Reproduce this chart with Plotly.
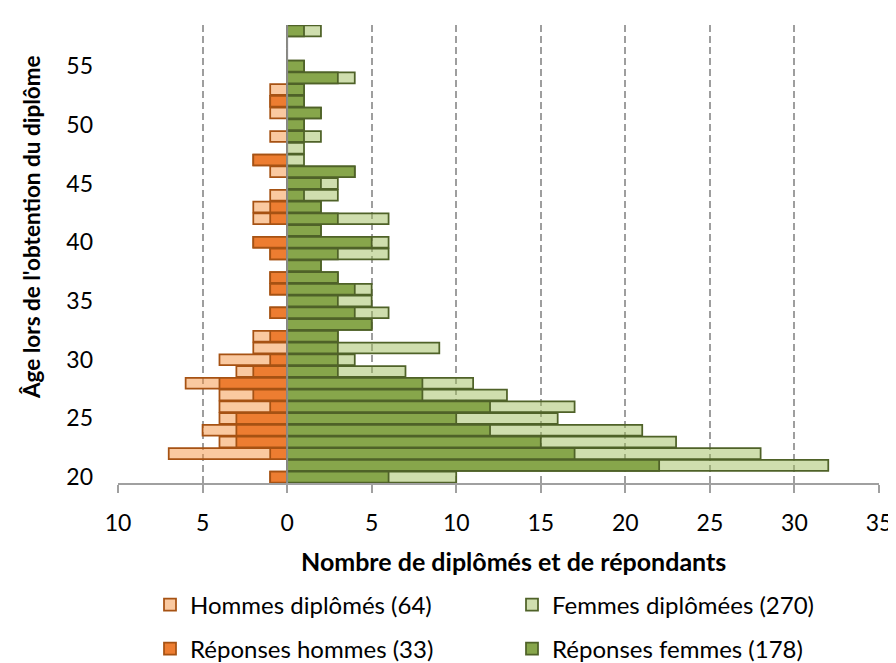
import plotly.graph_objects as go

# ---- data ----
ages = list(range(20, 59))
hommes_diplomes = [1, 0, 7, 4, 5, 4, 4, 4, 6, 3, 4, 2, 2, 0, 1, 0, 1, 1, 0, 1,
                   2, 0, 2, 2, 1, 0, 1, 2, 0, 1, 0, 1, 1, 1, 0, 0, 0, 0, 0]
reponses_hommes = [1, 0, 1, 3, 3, 3, 1, 2, 4, 2, 1, 0, 1, 0, 1, 0, 1, 1, 0, 1,
                   2, 0, 1, 1, 0, 0, 0, 2, 0, 0, 0, 0, 1, 0, 0, 0, 0, 0, 0]
femmes_diplomees = [10, 32, 28, 23, 21, 16, 17, 13, 11, 7, 4, 9, 3, 5, 6, 5, 5, 3, 2, 6,
                    6, 2, 6, 2, 3, 3, 4, 1, 1, 2, 1, 2, 1, 1, 4, 1, 0, 0, 2]
reponses_femmes = [6, 22, 17, 15, 12, 10, 12, 8, 8, 3, 3, 3, 3, 5, 4, 3, 4, 3, 2, 3,
                   5, 2, 3, 2, 1, 2, 4, 0, 0, 1, 1, 2, 1, 1, 3, 1, 0, 0, 1]

noms = ["Hommes diplômés (64)", "Femmes diplômées (270)",
        "Réponses hommes (33)", "Réponses femmes (178)"]

x_tick_vals = [-10, -5, 0, 5, 10, 15, 20, 25, 30, 35]
x_tick_text = ["10", "5", "0", "5", "10", "15", "20", "25", "30", "35"]
y_tick_vals = [20, 25, 30, 35, 40, 45, 50, 55]

titre_x = "Nombre de diplômés et de répondants"
titre_y = "Âge lors de l'obtention du diplôme"

# ---- styles ----
FONT = "Lato, 'Open Sans', sans-serif"
W, H = 896, 663
L, R, T, B = 110, 16, 17, 188
PW, PH = W - L - R, H - T - B

c_peach = "rgba(245,147,65,0.5)"
c_orange = "#ED7D31"
c_lgreen = "rgba(159,189,93,0.5)"
c_green = "#87A64B"
b_men = "#A65213"
b_women = "#4F6228"

fig = go.Figure()

def add(vals, name, fill, border, legend):
    fig.add_trace(go.Bar(
        x=vals, y=ages, orientation="h", name=name,
        marker=dict(color=fill, line=dict(color=border, width=1.75)),
        legend=legend, hoverinfo="x+y+name",
    ))

add([-v for v in hommes_diplomes], noms[0], c_peach, b_men, "legend")
add(femmes_diplomees, noms[1], c_lgreen, b_women, "legend2")
add([-v for v in reponses_hommes], noms[2], c_orange, b_men, "legend3")
add(reponses_femmes, noms[3], c_green, b_women, "legend4")

def px2paper_x(px):
    return (px - L) / PW

def px2paper_y(py):
    return (H - B - py) / PH

leg_common = dict(orientation="h", xref="container", yref="container",
                  xanchor="left", yanchor="middle", bgcolor="rgba(0,0,0,0)",
                  font=dict(family=FONT, size=24, color="#000000"))
col_x = [142, 504]
row_y = [597, 641]

fig.update_layout(
    width=W, height=H,
    margin=dict(l=L, r=R, t=T, b=B),
    paper_bgcolor="white", plot_bgcolor="white",
    barmode="overlay", bargap=0.08,
    font=dict(family=FONT, size=23, color="#000000"),
    showlegend=True,
    legend=dict(**leg_common, x=col_x[0] / W, y=1 - row_y[0] / H),
    legend2=dict(**leg_common, x=col_x[1] / W, y=1 - row_y[0] / H),
    legend3=dict(**leg_common, x=col_x[0] / W, y=1 - row_y[1] / H),
    legend4=dict(**leg_common, x=col_x[1] / W, y=1 - row_y[1] / H),
    xaxis=dict(
        range=[-10, 35], tickmode="array", tickvals=x_tick_vals, ticktext=x_tick_text,
        showgrid=True, gridcolor="#9E9E9E", griddash="7px,4px", gridwidth=1.5,
        zeroline=False,
        showline=True, linecolor="#A0A0A0", linewidth=2,
        ticks="outside", ticklen=8, tickwidth=2, tickcolor="#A0A0A0",
        ticklabelstandoff=10,
        tickfont=dict(family=FONT, size=23, color="#000000"),
    ),
    yaxis=dict(
        range=[19.5, 58.5], tickmode="array", tickvals=y_tick_vals,
        showgrid=False, zeroline=False, showline=False, ticks="",
        ticklabelstandoff=24,
        tickfont=dict(family=FONT, size=23, color="#000000"),
    ),
    shapes=[dict(type="line", xref="x", yref="paper", x0=0, x1=0, y0=0, y1=1,
                 line=dict(color="#8C8C8C", width=2), layer="above")],
    annotations=[
        dict(text="<b>" + titre_x + "</b>", xref="paper", yref="paper",
             x=px2paper_x(510), y=px2paper_y(553), xanchor="center", yanchor="middle",
             showarrow=False, font=dict(family=FONT, size=25, color="#000000")),
        dict(text="<b>" + titre_y + "</b>", xref="paper", yref="paper",
             x=px2paper_x(22), y=px2paper_y(219), xanchor="center", yanchor="middle",
             textangle=-90, showarrow=False,
             font=dict(family=FONT, size=22.5, color="#000000")),
    ],
)

fig.write_html("out.html")
